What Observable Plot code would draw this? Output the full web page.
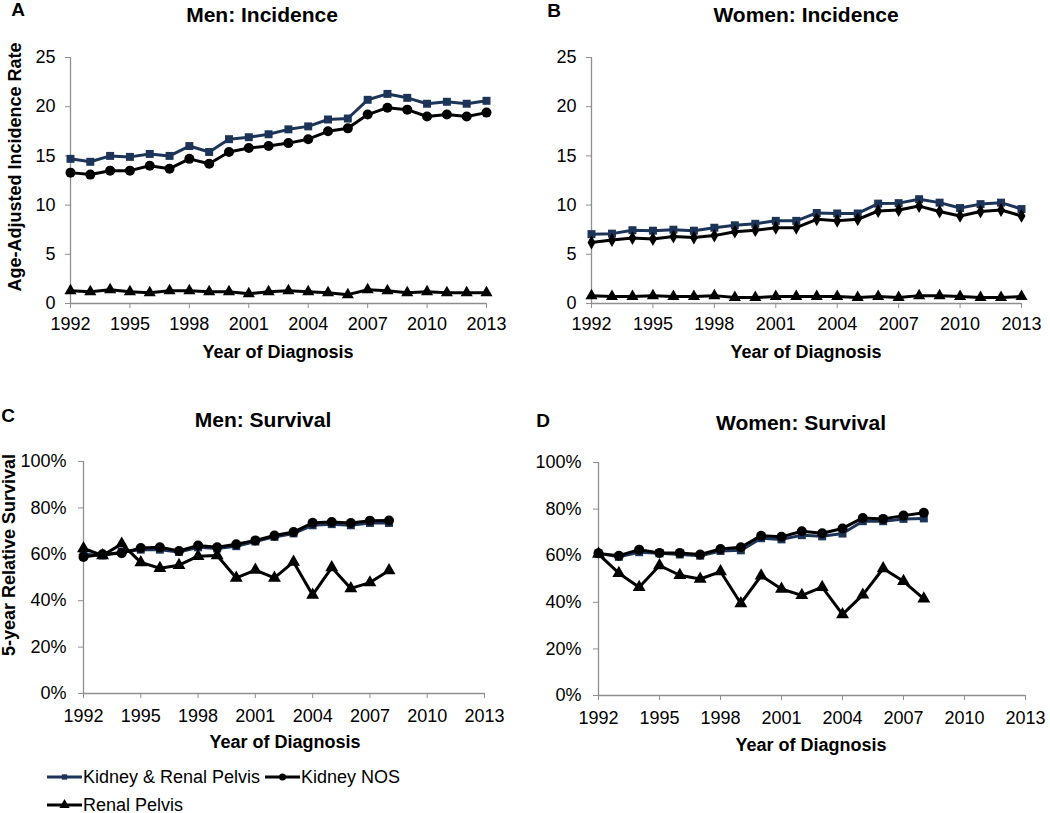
<!DOCTYPE html>
<html>
<head>
<meta charset="utf-8">
<script src="https://cdn.jsdelivr.net/npm/d3@7"></script>
<script src="https://cdn.jsdelivr.net/npm/@observablehq/plot@0.6"></script>
<style>
  html, body { margin: 0; padding: 0; background: #fff; }
  #root { position: relative; width: 1050px; height: 813px; overflow: hidden;
          font-family: "Liberation Sans", Arial, sans-serif; color: #000; }
  .abs { position: absolute; white-space: nowrap; }
  .c { transform: translate(-50%, -50%); }
  .b { font-weight: bold; }
  .rot { transform: translate(-50%, -50%) rotate(-90deg); }
  .panel { position: absolute; }
  .leg { position: absolute; display: flex; align-items: center; font-size: 18px; white-space: nowrap; }
</style>
</head>
<body>
<div id="root"></div>
<script>
// ---------- data ----------
const seriesNames = ["Kidney & Renal Pelvis", "Kidney NOS", "Renal Pelvis"];
const incYears = [1992,1993,1994,1995,1996,1997,1998,1999,2000,2001,2002,2003,2004,2005,2006,2007,2008,2009,2010,2011,2012,2013];
const survYears = [1992,1993,1994,1995,1996,1997,1998,1999,2000,2001,2002,2003,2004,2005,2006,2007,2008];
const xTicks = [1992,1995,1998,2001,2004,2007,2010,2013];
const incTicks = [0,5,10,15,20,25];
const survTicks = [0,20,40,60,80,100];

const menIncKRP = [14.7,14.4,15.0,14.9,15.2,15.0,16.0,15.4,16.7,16.9,17.2,17.7,18.0,18.7,18.8,20.7,21.3,20.9,20.3,20.5,20.3,20.6];
const menIncNOS = [13.3,13.1,13.5,13.5,14.0,13.7,14.7,14.2,15.4,15.8,16.0,16.3,16.7,17.5,17.8,19.2,19.9,19.7,19.0,19.2,19.0,19.4];
const menIncRP  = [1.3,1.2,1.4,1.2,1.1,1.3,1.3,1.2,1.2,1.0,1.2,1.3,1.2,1.1,0.9,1.4,1.3,1.1,1.2,1.1,1.1,1.1];

const womenIncKRP = [7.05,7.1,7.45,7.4,7.5,7.4,7.7,7.95,8.1,8.4,8.4,9.2,9.15,9.15,10.15,10.2,10.6,10.25,9.7,10.1,10.25,9.6];
const womenIncNOS = [6.2,6.45,6.65,6.55,6.8,6.7,6.9,7.3,7.45,7.7,7.7,8.55,8.4,8.55,9.4,9.5,9.9,9.35,8.9,9.35,9.5,8.9];
const womenIncRP  = [0.8,0.7,0.7,0.8,0.7,0.7,0.8,0.6,0.6,0.7,0.7,0.7,0.7,0.6,0.7,0.6,0.8,0.8,0.7,0.6,0.6,0.7];

const menSurvKRP = [60.0,59.5,61.0,62.0,62.0,61.0,63.0,62.5,63.5,65.5,67.5,69.0,72.5,73.0,72.5,73.5,73.5];
const menSurvNOS = [58.8,60.0,60.5,62.7,63.0,61.4,63.8,63.0,64.3,66.0,68.1,69.6,73.6,73.9,73.5,74.5,74.6];
const menSurvRP  = [62.5,59.5,64.5,56.5,54.0,55.3,59.2,59.5,49.8,53.2,49.8,56.7,42.5,54.3,45.3,47.8,53.0];

const womenSurvKRP = [61.0,59.5,61.5,61.0,60.5,60.0,62.0,62.3,67.5,67.0,68.8,68.3,69.5,74.8,74.8,75.8,76.0];
const womenSurvNOS = [61.0,60.0,62.6,61.2,61.2,60.5,62.9,63.6,68.6,68.1,70.5,69.6,71.7,76.2,75.8,77.2,78.4];
const womenSurvRP  = [60.7,52.5,46.5,55.8,51.6,50.0,53.2,39.5,51.4,45.7,43.0,46.5,34.8,43.2,54.5,49.0,41.5];

// ---------- styles ----------
const NAVY = "#1c3457";
const BLACK = "#000000";
const AXIS = "#8f8f8f";
const FONT = "'Liberation Sans', Arial, sans-serif";

const root = document.getElementById("root");

function addText(txt, x, y, cls, size) {
  const d = document.createElement("div");
  d.className = "abs " + cls;
  d.style.left = x + "px";
  d.style.top = y + "px";
  d.style.fontSize = size + "px";
  d.textContent = txt;
  root.appendChild(d);
}

function panel(opts) {
  const {left, top, width, height, mL, mR, mT, mB, years, vals, symbols, radii, yDomain, yTicks, yFmt, xPad, yPad} = opts;
  const colors = [NAVY, BLACK, BLACK];
  const marks = [
    Plot.ruleX([1992], {stroke: AXIS, strokeWidth: 1.3}),
    Plot.ruleY([0], {stroke: AXIS, strokeWidth: 1.3}),
    Plot.axisX({ticks: xTicks, tickFormat: d => String(d), tickSize: 5, tickPadding: xPad,
                stroke: AXIS, fill: "#000", fontSize: 18, label: null}),
    Plot.axisY({ticks: yTicks, tickFormat: yFmt, tickSize: 5, tickPadding: yPad,
                stroke: AXIS, fill: "#000", fontSize: 18, label: null})
  ];
  vals.forEach((arr, i) => {
    const data = years.map((yr, j) => ({year: yr, value: arr[j], series: seriesNames[i]}));
    marks.push(Plot.line(data, {x: "year", y: "value", stroke: colors[i], strokeWidth: 3}));
    marks.push(Plot.dot(data, {x: "year", y: "value", symbol: symbols[i], r: radii[i], fill: colors[i], stroke: "none"}));
  });
  const chart = Plot.plot({
    width, height,
    marginLeft: mL, marginRight: mR, marginTop: mT, marginBottom: mB,
    x: {domain: [1992, 2013]},
    y: {domain: yDomain},
    style: {fontFamily: FONT, fontSize: "18px", color: "#000", background: "transparent", overflow: "visible"},
    marks
  });
  const wrap = document.createElement("div");
  wrap.className = "panel";
  wrap.style.left = left + "px";
  wrap.style.top = top + "px";
  wrap.appendChild(chart);
  root.appendChild(wrap);
}

// A: Men incidence  (plot area x 70-486, y 57-303)
panel({left: 0, top: 40, width: 525, height: 330, mL: 70, mR: 39, mT: 17, mB: 67,
  years: incYears, vals: [menIncKRP, menIncNOS, menIncRP],
  symbols: ["square", "circle", "triangle"], radii: [4.5, 5, 4.5],
  yDomain: [0, 25], yTicks: incTicks, yFmt: d => String(d), xPad: 9, yPad: 10});

// B: Women incidence (plot area x 591-1021, y 57-303)
panel({left: 525, top: 40, width: 525, height: 330, mL: 66, mR: 29, mT: 17, mB: 67,
  years: incYears, vals: [womenIncKRP, womenIncNOS, womenIncRP],
  symbols: ["square", "diamond", "triangle"], radii: [4.5, 4.2, 4.5],
  yDomain: [0, 25], yTicks: incTicks, yFmt: d => String(d), xPad: 9, yPad: 10});

// C: Men survival (plot area x 83-484, y 461-693)
panel({left: 0, top: 440, width: 525, height: 320, mL: 83, mR: 41, mT: 21, mB: 67,
  years: survYears, vals: [menSurvKRP, menSurvNOS, menSurvRP],
  symbols: ["square", "circle", "triangle"], radii: [4.5, 5, 4.8],
  yDomain: [0, 100], yTicks: survTicks, yFmt: d => d + "%", xPad: 11, yPad: 12});

// D: Women survival (plot area x 598-1025, y 462-695)
panel({left: 525, top: 440, width: 525, height: 320, mL: 73, mR: 25, mT: 22, mB: 65,
  years: survYears, vals: [womenSurvKRP, womenSurvNOS, womenSurvRP],
  symbols: ["square", "circle", "triangle"], radii: [4.5, 5, 4.8],
  yDomain: [0, 100], yTicks: survTicks, yFmt: d => d + "%", xPad: 11, yPad: 12});

// ---------- text ----------
addText("A", 18, 10, "c b", 19);
addText("B", 554, 11, "c b", 19);
addText("C", 8, 416, "c b", 19);
addText("D", 543, 421, "c b", 19);

addText("Men: Incidence", 262, 15, "c b", 21);
addText("Women: Incidence", 806, 15, "c b", 21);
addText("Men: Survival", 263, 420, "c b", 21);
addText("Women: Survival", 801, 423, "c b", 21);

addText("Year of Diagnosis", 278, 352, "c b", 18);
addText("Year of Diagnosis", 806, 352, "c b", 18);
addText("Year of Diagnosis", 285, 742, "c b", 18);
addText("Year of Diagnosis", 811, 745, "c b", 18);

addText("Age-Adjusted Incidence Rate", 15, 167, "rot b", 18);
addText("5-year Relative Survival", 9, 555, "rot b", 18);

// ---------- legend ----------
function swatch(color, symbol, r) {
  const ns = "http://www.w3.org/2000/svg";
  const svg = document.createElementNS(ns, "svg");
  svg.setAttribute("width", 35);
  svg.setAttribute("height", 14);
  svg.style.display = "block";
  const l = document.createElementNS(ns, "line");
  l.setAttribute("x1", 0); l.setAttribute("x2", 35);
  l.setAttribute("y1", 7); l.setAttribute("y2", 7);
  l.setAttribute("stroke", color); l.setAttribute("stroke-width", 3);
  svg.appendChild(l);
  const p = document.createElementNS(ns, "path");
  const sym = {square: d3.symbolSquare, circle: d3.symbolCircle, triangle: d3.symbolTriangle}[symbol];
  p.setAttribute("d", d3.symbol(sym, Math.PI * r * r)());
  p.setAttribute("transform", "translate(17.5,7)");
  p.setAttribute("fill", color);
  svg.appendChild(p);
  return svg;
}
function legendItem(x, y, color, symbol, r, label) {
  const d = document.createElement("div");
  d.className = "leg";
  d.style.left = x + "px";
  d.style.top = (y - 10) + "px";
  d.style.height = "20px";
  d.appendChild(swatch(color, symbol, r));
  const s = document.createElement("span");
  s.style.marginLeft = "1px";
  s.textContent = label;
  d.appendChild(s);
  root.appendChild(d);
}
legendItem(47, 777, NAVY, "square", 3, seriesNames[0]);
legendItem(265, 777, BLACK, "circle", 3.5, seriesNames[1]);
legendItem(47, 805, BLACK, "triangle", 3.8, seriesNames[2]);
</script>
</body>
</html>
